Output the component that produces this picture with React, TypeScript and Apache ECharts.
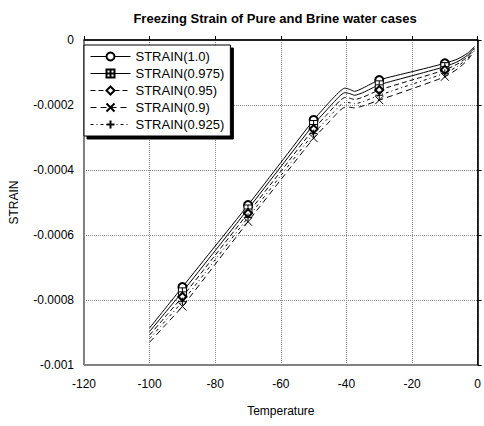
import React, { useEffect, useRef } from "react";
import * as echarts from "echarts";

const temps = [-100, -95, -90, -80, -70, -60, -50, -46, -44, -42, -40.5, -39, -37.5, -35, -30, -20, -10, -6, -3, -1];
const markerTemps = [-90, -70, -50, -30, -10];

const strain100 = [-0.000886, -0.000823, -0.00076, -0.000634, -0.000508, -0.000377, -0.000246, -0.0002, -0.000178, -0.000158, -0.000148, -0.000152, -0.000158, -0.000148, -0.000123, -0.0000975, -0.0000717, -0.000058, -0.00004, -0.00002];
const strain0975 = [-0.000897, -0.000836, -0.000775, -0.000648, -0.00052, -0.00039, -0.00026, -0.000215, -0.000193, -0.000172, -0.000162, -0.000165, -0.00017, -0.000162, -0.000138, -0.00011, -0.000082, -0.000066, -0.000046, -0.000024];
const strain095 = [-0.000908, -0.000849, -0.00079, -0.000662, -0.000533, -0.000404, -0.000274, -0.00023, -0.000208, -0.000187, -0.000177, -0.000179, -0.000183, -0.000176, -0.000154, -0.000123, -0.000092, -0.000073, -0.000051, -0.000027];
const strain09 = [-0.00093, -0.000875, -0.00082, -0.00069, -0.000559, -0.00043, -0.000302, -0.00026, -0.000238, -0.000217, -0.000207, -0.000207, -0.000209, -0.000203, -0.000185, -0.00015, -0.000113, -0.000088, -0.000061, -0.000033];
const strain0925 = [-0.000919, -0.000862, -0.000805, -0.000676, -0.000546, -0.000417, -0.000288, -0.000245, -0.000223, -0.000202, -0.000192, -0.000193, -0.000196, -0.00019, -0.00017, -0.000136, -0.000102, -0.00008, -0.000056, -0.00003];

const seriesNames = ["STRAIN(1.0)", "STRAIN(0.975)", "STRAIN(0.95)", "STRAIN(0.9)", "STRAIN(0.925)"];
const seriesValues = [strain100, strain0975, strain095, strain09, strain0925];
const seriesSymbols = [
  "emptyCircle",
  "path://M0,0L10,0L10,10L0,10ZM5,0L5,10M0,5L10,5",
  "emptyDiamond",
  "path://M0,0L10,10M10,0L0,10",
  "path://M5,0L5,10M0,5L10,5",
];
const seriesDash: any[] = ["solid", "solid", [5, 3], [6, 4], [3, 3, 1, 3]];

const FONT = "Liberation Sans, Arial, sans-serif";

export default function App() {
  const ref = useRef<HTMLDivElement>(null);
  useEffect(() => {
    if (!ref.current) return;
    const chart = echarts.init(ref.current, null, { renderer: "svg" });
    const series = seriesNames.map((name, i) => ({
      name,
      type: "line",
      animation: false,
      symbol: seriesSymbols[i],
      symbolSize: 8,
      showAllSymbol: true,
      smooth: 0.2,
      lineStyle: { color: "#000", width: 1, type: seriesDash[i] },
      itemStyle: { color: i === 0 || i === 2 ? "#000" : "#fff", borderColor: "#000", borderWidth: 1 },
      data: temps.map((t, k) =>
        markerTemps.includes(t)
          ? { value: [t, seriesValues[i][k]] }
          : { value: [t, seriesValues[i][k]], symbol: "none" }
      ),
    }));
    chart.setOption({
      animation: false,
      backgroundColor: "#fff",
      textStyle: { fontFamily: FONT },
      title: {
        text: "Freezing Strain of Pure and Brine water cases",
        left: 270,
        textAlign: "center",
        top: 7,
        textStyle: { fontFamily: FONT, fontSize: 13, fontWeight: "bold", color: "#000" },
      },
      legend: {
        orient: "vertical",
        left: 84,
        top: 45,
        itemGap: 4,
        itemWidth: 40,
        itemHeight: 10,
        padding: [5, 6, 5, 6],
        backgroundColor: "#fff",
        borderColor: "#000",
        borderWidth: 1,
        shadowColor: "#000",
        shadowBlur: 0,
        shadowOffsetX: 3,
        shadowOffsetY: 3,
        lineStyle: { width: 1 },
        textStyle: { fontFamily: FONT, fontSize: 13, color: "#000" },
        data: seriesNames,
      },
      grid: {
        left: 78,
        right: 5,
        top: 40,
        bottom: 61,
        show: true,
        borderColor: "#000",
        borderWidth: 1,
      },
      xAxis: {
        type: "value",
        min: -120,
        max: 0,
        interval: 20,
        name: "Temperature",
        nameLocation: "middle",
        nameGap: 40,
        nameTextStyle: { fontFamily: FONT, fontSize: 12, color: "#000" },
        axisLine: { lineStyle: { color: "#000", width: 1.5 } },
        axisTick: { inside: true, length: 4, lineStyle: { color: "#000" } },
        axisLabel: { fontFamily: FONT, fontSize: 12, color: "#000", margin: 13 },
        splitLine: { show: true, lineStyle: { color: "#888", type: "dotted", width: 1 } },
      },
      yAxis: {
        type: "value",
        min: -0.001,
        max: 0,
        interval: 0.0002,
        name: "STRAIN",
        nameLocation: "middle",
        nameGap: 64,
        nameTextStyle: { fontFamily: FONT, fontSize: 12, color: "#000" },
        axisLine: { lineStyle: { color: "#000", width: 1.5 } },
        axisTick: { inside: true, length: 4, lineStyle: { color: "#000" } },
        axisLabel: {
          fontFamily: FONT,
          fontSize: 12,
          color: "#000",
          margin: 10,
          formatter: (v: number) => String(Number(v.toPrecision(6))),
        },
        splitLine: { show: true, lineStyle: { color: "#888", type: "dotted", width: 1 } },
      },
      series,
    });
    return () => chart.dispose();
  }, []);
  return <div ref={ref} style={{ width: 484, height: 426, position: "absolute", left: 0, top: 0 }} />;
}
